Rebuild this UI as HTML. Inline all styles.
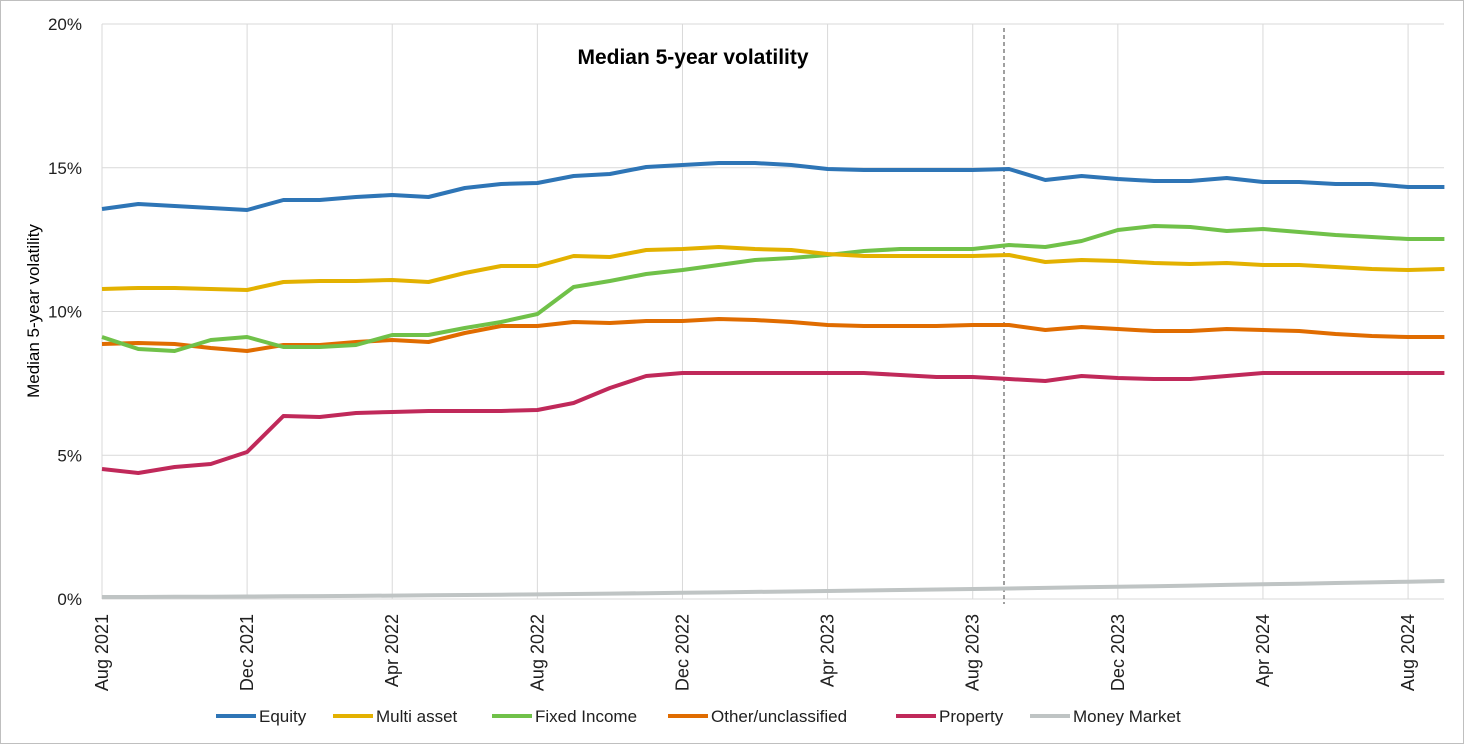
<!DOCTYPE html>
<html><head><meta charset="utf-8"><style>
html,body{margin:0;padding:0;background:#fff;}
svg{display:block;font-family:"Liberation Sans","DejaVu Sans",sans-serif;}
</style></head><body>
<svg id="c" width="1464" height="744" xmlns="http://www.w3.org/2000/svg"></svg>
<script>
const s=document.getElementById('c');let h='';
h+='<rect x="0.5" y="0.5" width="1463" height="743" fill="#fff" stroke="#bfbfbf"/>';
const X=i=>102+36.28*i;
for(let k=0;k<=4;k++){const y=599-143.75*k;h+=`<line x1="102" x2="1444" y1="${y}" y2="${y}" stroke="#d9d9d9"/>`;
h+=`<text x="82" y="${y+6}" font-size="17" text-anchor="end" fill="#202020">${k*5}%</text>`;}
const labs=['Aug 2021','Dec 2021','Apr 2022','Aug 2022','Dec 2022','Apr 2023','Aug 2023','Dec 2023','Apr 2024','Aug 2024'];
labs.forEach((l,j)=>{const x=X(j*4);h+=`<line x1="${x}" x2="${x}" y1="24" y2="599" stroke="#d9d9d9"/>`;
h+=`<text transform="translate(${x+6},614) rotate(-90)" font-size="18" text-anchor="end" fill="#202020">${l}</text>`;});
h+='<line x1="1004" x2="1004" y1="28" y2="604" stroke="#404040" stroke-dasharray="4,3"/>';
h+='<text x="693" y="64" font-size="21" font-weight="bold" text-anchor="middle" fill="#000">Median 5-year volatility</text>';
h+='<text transform="translate(39,311) rotate(-90)" font-size="17" text-anchor="middle" fill="#000">Median 5-year volatility</text>';
const D={
'#2e75b6':[209,204,206,208,210,200,200,197,195,197,188,184,183,176,174,167,165,163,163,165,169,170,170,170,170,169,180,176,179,181,181,178,182,182,184,184,187,187],
'#e3b100':[289,288,288,289,290,282,281,281,280,282,273,266,266,256,257,250,249,247,249,250,254,256,256,256,256,255,262,260,261,263,264,263,265,265,267,269,270,269],
'#70c149':[337,349,351,340,337,347,347,345,335,335,328,322,314,287,281,274,270,265,260,258,255,251,249,249,249,245,247,241,230,226,227,231,229,232,235,237,239,239],
'#e06c00':[344,343,344,348,351,345,345,342,340,342,333,326,326,322,323,321,321,319,320,322,325,326,326,326,325,325,330,327,329,331,331,329,330,331,334,336,337,337],
'#c0295a':[469,473,467,464,452,416,417,413,412,411,411,411,410,403,388,376,373,373,373,373,373,373,375,377,377,379,381,376,378,379,379,376,373,373,373,373,373,373]};
let mm=[];for(let i=0;i<38;i++){mm.push(597-Math.pow(i/37,1.6)*16);}
D['#bfc4c4']=mm;
const order=['#bfc4c4','#c0295a','#e06c00','#70c149','#e3b100','#2e75b6'];
order.forEach(c=>{h+=`<polyline fill="none" stroke="${c}" stroke-width="4" stroke-linejoin="round" points="${D[c].map((y,i)=>X(i).toFixed(1)+','+y.toFixed(1)).join(' ')}"/>`;});
const leg=[['Equity','#2e75b6',216],['Multi asset','#e3b100',333],['Fixed Income','#70c149',492],['Other/unclassified','#e06c00',668],['Property','#c0295a',896],['Money Market','#bfc4c4',1030]];
leg.forEach(([t,c,x])=>{h+=`<line x1="${x}" x2="${x+40}" y1="716" y2="716" stroke="${c}" stroke-width="4"/><text x="${x+43}" y="722" font-size="17" fill="#202020">${t}</text>`;});
s.innerHTML=h;
</script>
</body></html>
